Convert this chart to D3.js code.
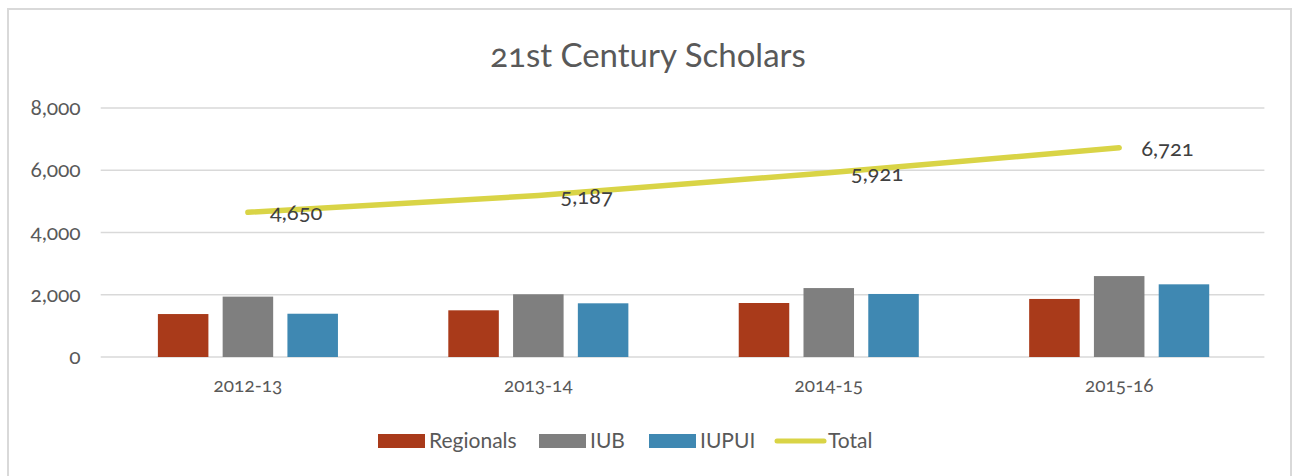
<!DOCTYPE html>
<html>
<head>
<meta charset="utf-8">
<script src="https://cdn.jsdelivr.net/npm/d3@7"></script>
<style>
  body { margin: 0; background: #fff; }
  svg { font-family: Lato, "Open Sans", sans-serif; font-variant-numeric: oldstyle-nums; }
</style>
</head>
<body>
<svg id="chart"></svg>
<script>
// Data
const years = ["2012-13", "2013-14", "2014-15", "2015-16"];
const seriesNames = ["Regionals", "IUB", "IUPUI"];
const regionals = [1380, 1500, 1735, 1865];
const iub = [1940, 2015, 2215, 2600];
const iupui = [1390, 1725, 2025, 2335];
const total = [4650, 5187, 5921, 6721];
const yTicks = [0, 2000, 4000, 6000, 8000];

const colors = { Regionals: "#a93a1a", IUB: "#7f7f7f", IUPUI: "#3f88b2", Total: "#d9d446" };

// Chart dimensions
const width = 1297;
const height = 476;
const plot = { left: 102.7, right: 1264.4, top: 108, bottom: 357 };

const svg = d3.select("#chart")
    .attr("width", width)
    .attr("height", height);

// Outer border
svg.append("rect")
    .attr("x", 8).attr("y", 9)
    .attr("width", 1283).attr("height", 480)
    .attr("fill", "none")
    .attr("stroke", "#d9d9d9")
    .attr("stroke-width", 2);

// Title
svg.append("text")
    .attr("x", 648).attr("y", 67)
    .attr("text-anchor", "middle")
    .attr("font-size", 33)
    .attr("fill", "#595959")
    .text("21st Century Scholars");

// Scales
const x0 = d3.scaleBand()
    .domain(years)
    .range([plot.left, plot.right])
    .paddingInner(0.38)
    .paddingOuter(0.19);

const x1 = d3.scaleBand()
    .domain(seriesNames)
    .range([0, x0.bandwidth()])
    .paddingInner(0.22);

const y = d3.scaleLinear()
    .domain([0, 8000])
    .range([plot.bottom, plot.top]);

// Gridlines
svg.append("g")
    .selectAll("line")
    .data(yTicks)
    .enter().append("line")
    .attr("x1", plot.left - 2)
    .attr("x2", plot.right)
    .attr("y1", d => y(d))
    .attr("y2", d => y(d))
    .attr("stroke", "#d9d9d9")
    .attr("stroke-width", 1.5);

// Y axis labels
const yAxis = d3.axisLeft(y)
    .tickValues(yTicks)
    .tickFormat(d3.format(","))
    .tickSize(0)
    .tickPadding(22);
svg.append("g")
    .attr("transform", `translate(${plot.left},0)`)
    .call(yAxis)
    .call(g => g.select(".domain").remove())
    .call(g => g.selectAll("text")
        .attr("font-family", "Lato, 'Open Sans', sans-serif")
        .attr("font-size", 21)
        .attr("fill", "#595959"));

// X axis labels
const xAxis = d3.axisBottom(d3.scaleBand().domain(years).range([plot.left, plot.right]))
    .tickSize(0)
    .tickPadding(22);
svg.append("g")
    .attr("transform", `translate(0,${plot.bottom})`)
    .call(xAxis)
    .call(g => g.select(".domain").remove())
    .call(g => g.selectAll("text")
        .attr("font-family", "Lato, 'Open Sans', sans-serif")
        .attr("font-size", 19)
        .attr("fill", "#595959"));

// Bars
const barData = years.map((yr, i) => ({
    year: yr,
    values: [
        { key: "Regionals", value: regionals[i] },
        { key: "IUB", value: iub[i] },
        { key: "IUPUI", value: iupui[i] }
    ]
}));

svg.append("g")
    .selectAll("g")
    .data(barData)
    .enter().append("g")
    .attr("transform", d => `translate(${x0(d.year)},0)`)
    .selectAll("rect")
    .data(d => d.values)
    .enter().append("rect")
    .attr("x", d => x1(d.key))
    .attr("y", d => y(d.value))
    .attr("width", x1.bandwidth())
    .attr("height", d => y(0) - y(d.value))
    .attr("fill", d => colors[d.key]);

// Total line
const xc = d => x0(d) + x0.bandwidth() / 2;
const line = d3.line()
    .x((d, i) => xc(years[i]))
    .y(d => y(d));

svg.append("path")
    .datum(total)
    .attr("d", line)
    .attr("fill", "none")
    .attr("stroke", colors.Total)
    .attr("stroke-width", 5.5)
    .attr("stroke-linecap", "round");

// Line labels
svg.append("g")
    .selectAll("text")
    .data(total)
    .enter().append("text")
    .attr("x", (d, i) => xc(years[i]) + 22)
    .attr("y", d => y(d) + 8)
    .attr("font-size", 22)
    .attr("fill", "#404040")
    .text(d => d3.format(",")(d));

// Legend
const legendItems = [
    { key: "Regionals", type: "rect", x: 378 },
    { key: "IUB", type: "rect", x: 539 },
    { key: "IUPUI", type: "rect", x: 649 },
    { key: "Total", type: "line", x: 775 }
];

const legend = svg.append("g").attr("transform", "translate(0,441)");
const item = legend.selectAll("g")
    .data(legendItems)
    .enter().append("g")
    .attr("transform", d => `translate(${d.x},0)`);

item.filter(d => d.type === "rect").append("rect")
    .attr("x", 0).attr("y", -7)
    .attr("width", 47).attr("height", 14)
    .attr("fill", d => colors[d.key]);

item.filter(d => d.type === "line").append("line")
    .attr("x1", 2).attr("x2", 49)
    .attr("y1", 0).attr("y2", 0)
    .attr("stroke", colors.Total)
    .attr("stroke-width", 5)
    .attr("stroke-linecap", "round");

item.append("text")
    .attr("x", d => d.type === "line" ? 53 : 51)
    .attr("y", 7)
    .attr("font-size", 21)
    .attr("fill", "#595959")
    .text(d => d.key);
</script>
</body>
</html>
